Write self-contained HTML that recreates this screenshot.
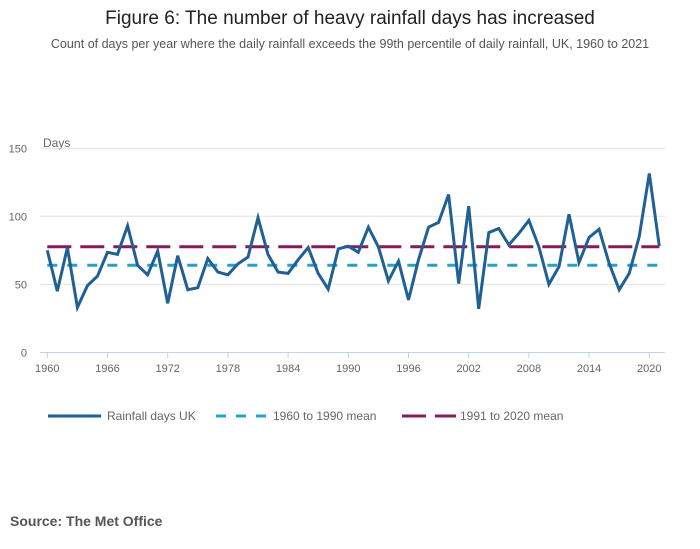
<!DOCTYPE html>
<html><head><meta charset="utf-8"><style>
html,body{margin:0;padding:0;background:#fff;width:700px;height:549px;overflow:hidden;font-family:"Liberation Sans",sans-serif;}
</style></head><body>
<svg id="chart" width="700" height="549" xmlns="http://www.w3.org/2000/svg">
<text x="350" y="24" text-anchor="middle" font-size="19" fill="#222">Figure 6: The number of heavy rainfall days has increased</text>
<text x="350" y="48" text-anchor="middle" font-size="12.5" fill="#555">Count of days per year where the daily rainfall exceeds the 99th percentile of daily rainfall, UK, 1960 to 2021</text>
<text x="43" y="147" font-size="12" fill="#666">Days</text>
<g id="grid"></g><g id="xaxis"></g><g id="series"></g>
<g>
<g><line x1="48" y1="416" x2="101" y2="416" stroke="#206095" stroke-width="3"/><text x="107" y="420" font-size="12" fill="#666">Rainfall days UK</text></g>
<g><line x1="216" y1="416" x2="268" y2="416" stroke="#27a0cc" stroke-width="3" stroke-dasharray="10,10"/><text x="273" y="420" font-size="12" fill="#666">1960 to 1990 mean</text></g>
<g><line x1="402" y1="416" x2="456" y2="416" stroke="#871a5b" stroke-width="3" stroke-dasharray="24,9"/><text x="460" y="420" font-size="12" fill="#666">1991 to 2020 mean</text></g>
</g>
<text x="10" y="526" font-size="14" font-weight="bold" fill="#555">Source: The Met Office</text>
</svg>
<script>
const years = [];
for (let y = 1960; y <= 2021; y++) years.push(y);
const rainfallDays = [75,45,77,33,49,56,73.5,72,93,64,57,74.5,36,71,46,47.5,69,59,57,65,70,99,72,59,58,68,77,58,46.5,76,78,73.5,92,77.5,52.5,67,38.5,68,92,95.5,116,50.5,107.5,32,88,91,79,87.5,97,77.5,50,63,101.5,66,84.5,90.5,65.5,46,58,85,131.5,78];
const mean1960to1990 = 64;
const mean1991to2020 = 77.6;
const yTicks = [0,50,100,150];
const xTicks = [1960,1966,1972,1978,1984,1990,1996,2002,2008,2014,2020];

const NS = "http://www.w3.org/2000/svg";
const X = yr => 47.3 + (yr - 1960) * 10.033;
const Y = v => 352.3 - v * 1.36;
function mk(tag, attrs, parent){const e=document.createElementNS(NS,tag);for(const k in attrs)e.setAttribute(k,attrs[k]);parent.appendChild(e);return e;}
const grid=document.getElementById('grid'), xa=document.getElementById('xaxis'), ser=document.getElementById('series');
yTicks.forEach(t=>{
  if(t>0){const l=mk('line',{x1:40,x2:665,y1:Y(t),y2:Y(t),stroke:'#e2e2e2','stroke-width':1},grid);
  
  }
  const tx=mk('text',{x:27,y:Y(t)+4,'text-anchor':'end','font-size':11,fill:'#666'},grid);
  tx.textContent=t;
  
  
});
const ax=mk('line',{x1:40,x2:665,y1:352.5,y2:352.5,stroke:'#c5d3e6','stroke-width':1},xa);


xTicks.forEach(t=>{
  mk('line',{x1:X(t),x2:X(t),y1:352.5,y2:358,stroke:'#c5d3e6','stroke-width':1},xa);
  const tx=mk('text',{x:X(t),y:372,'text-anchor':'middle','font-size':11,fill:'#666'},xa);
  tx.textContent=t;
  
  
});
const x0=X(years[0]), x1=X(years[years.length-1]);
const m1=mk('line',{x1:x0,x2:x1,y1:Y(mean1991to2020),y2:Y(mean1991to2020),stroke:'#871a5b','stroke-width':3,'stroke-dasharray':'24,9'},ser);


const m2=mk('line',{x1:x0,x2:x1,y1:Y(mean1960to1990),y2:Y(mean1960to1990),stroke:'#27a0cc','stroke-width':3,'stroke-dasharray':'10,10'},ser);


const pts=years.map((yr,i)=>X(yr).toFixed(1)+','+Y(rainfallDays[i]).toFixed(1)).join(' ');
const pl=mk('polyline',{points:pts,fill:'none',stroke:'#206095','stroke-width':3,'stroke-linejoin':'miter'},ser);


</script>
</body></html>
